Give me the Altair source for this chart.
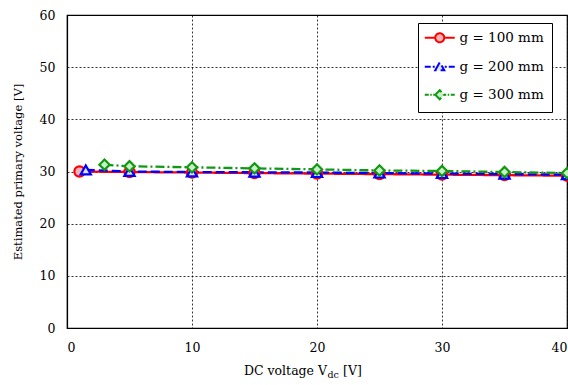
import altair as alt
import pandas as pd

# Measured series: DC voltage (V) vs. estimated primary voltage (V)
series_names = ["g = 100 mm", "g = 200 mm", "g = 300 mm"]

vdc_100 = [1, 5, 10, 15, 20, 25, 30, 35, 40]
vp_100 = [30.0, 29.9, 29.8, 29.7, 29.6, 29.5, 29.4, 29.3, 29.2]

vdc_200 = [1.5, 5, 10, 15, 20, 25, 30, 35, 40]
vp_200 = [30.3, 30.0, 29.9, 29.85, 29.8, 29.7, 29.6, 29.5, 29.4]

vdc_300 = [3, 5, 10, 15, 20, 25, 30, 35, 40]
vp_300 = [31.3, 31.0, 30.8, 30.6, 30.4, 30.2, 30.1, 29.9, 29.7]

x_ticks = [0, 10, 20, 30, 40]
y_ticks = [0, 10, 20, 30, 40, 50, 60]

x_title_parts = ["DC voltage V", "dc", "[V]"]
y_title = "Estimated primary voltage [V]"

line_colors = ["#ff0000", "#0000ff", "#119911"]
fill_colors = ["#f7b4b4", "#dfe3ff", "#c9efc9"]
dashes = [[1, 0], [9, 4], [9, 3, 2, 3]]
markers = ["circle", "triangle-up", "diamond"]

# legend glyphs: short line segment with the marker in the middle
legend_glyphs = [
    "M-3,0H-0.9M0.9,0H3M-0.9,0A0.9,0.9 0 1,0 0.9,0A0.9,0.9 0 1,0 -0.9,0Z",
    "M-3,0H-1.8M-1.4,0H-1M1,0H1.4M1.8,0H3M-0.9,0.7L0,-0.9L0.9,0.7Z",
    "M-3,0H-2.2M-1.9,0H-1.6M-1.3,0H-1M1,0H1.3M1.6,0H1.9M2.2,0H3M-0.9,0L0,-0.9L0.9,0L0,0.9Z",
]

FONT = "DejaVu Serif"

frames = []
for name, xs, ys in [
    (series_names[0], vdc_100, vp_100),
    (series_names[1], vdc_200, vp_200),
    (series_names[2], vdc_300, vp_300),
]:
    frames.append(pd.DataFrame({"series": name, "vdc": xs, "vp": ys}))
data = pd.concat(frames, ignore_index=True)

legend = alt.Legend(
    title=None,
    orient="none",
    legendX=351,
    legendY=8,
    direction="vertical",
    strokeColor="black",
    fillColor="white",
    padding=8,
    symbolSize=100,
    symbolStrokeWidth=2,
    symbolOffset=7,
    labelOffset=13,
    rowPadding=11,
    labelFont=FONT,
    labelFontSize=13.5,
    labelColor="black",
    cornerRadius=0,
)

stroke_scale = alt.Scale(domain=series_names, range=line_colors)
fill_scale = alt.Scale(domain=series_names, range=fill_colors)

x_enc = alt.X(
    "vdc:Q",
    scale=alt.Scale(domain=[0, 40], nice=False),
    axis=alt.Axis(values=x_ticks, title=None, format="d"),
)
y_enc = alt.Y(
    "vp:Q",
    scale=alt.Scale(domain=[0, 60], nice=False),
    axis=alt.Axis(values=y_ticks, title=y_title, format="d"),
)

base = alt.Chart(data)

lines = base.mark_line(strokeWidth=2.3).encode(
    x=x_enc,
    y=y_enc,
    stroke=alt.Stroke("series:N", scale=stroke_scale, legend=legend),
    strokeDash=alt.StrokeDash(
        "series:N", scale=alt.Scale(domain=series_names, range=dashes), legend=None
    ),
    order=alt.Order("vdc:Q"),
)

point_layers = []
for name, shape in zip(series_names, markers):
    point_layers.append(
        base.transform_filter(alt.datum.series == name)
        .mark_point(shape=shape, size=105, strokeWidth=2.2, opacity=1, filled=False)
        .encode(
            x=x_enc,
            y=y_enc,
            stroke=alt.Stroke("series:N", scale=stroke_scale, legend=legend),
            fill=alt.Fill("series:N", scale=fill_scale, legend=legend),
        )
    )

# layer that only feeds the legend (no rows drawn)
legend_layer = (
    base.transform_filter("false")
    .mark_point(size=100, strokeWidth=2, filled=False, opacity=1)
    .encode(
        x=x_enc,
        y=y_enc,
        stroke=alt.Stroke("series:N", scale=stroke_scale, legend=legend),
        fill=alt.Fill("series:N", scale=fill_scale, legend=legend),
        shape=alt.Shape(
            "series:N",
            scale=alt.Scale(domain=series_names, range=legend_glyphs),
            legend=legend,
        ),
    )
)

# x-axis title with subscript
title_df = pd.DataFrame({"t": [0]})
t_main = alt.Chart(title_df).mark_text(
    text=x_title_parts[0], font=FONT, fontSize=12.5, align="right", baseline="alphabetic"
).encode(x=alt.value(260), y=alt.value(360))
t_sub = alt.Chart(title_df).mark_text(
    text=x_title_parts[1], font=FONT, fontSize=9.5, align="left", baseline="alphabetic"
).encode(x=alt.value(260.5), y=alt.value(363))
t_unit = alt.Chart(title_df).mark_text(
    text=x_title_parts[2], font=FONT, fontSize=12.5, align="left", baseline="alphabetic"
).encode(x=alt.value(276), y=alt.value(360))

chart = (
    alt.layer(lines, *point_layers, legend_layer, t_main, t_sub, t_unit)
    .properties(
        width=500,
        height=313,
        autosize=alt.AutoSizeParams(type="none"),
        padding={"left": 67, "top": 15, "right": 1, "bottom": 57},
        background="white",
    )
    .configure_view(stroke="black", strokeWidth=1.2)
    .configure_axis(
        labelFont=FONT,
        labelFontSize=12.5,
        labelColor="black",
        titleFont=FONT,
        titleFontSize=11.5,
        titleFontWeight="normal",
        titleColor="black",
        domainColor="black",
        domainWidth=1.2,
        ticks=False,
        grid=True,
        gridColor="black",
        gridDash=[2, 2],
        gridWidth=0.8,
        gridOpacity=1,
    )
    .configure_axisX(labelPadding=13)
    .configure_axisY(labelPadding=12, titlePadding=16)
)

chart.save("out.html", embed_options={"renderer": "svg", "actions": False})
